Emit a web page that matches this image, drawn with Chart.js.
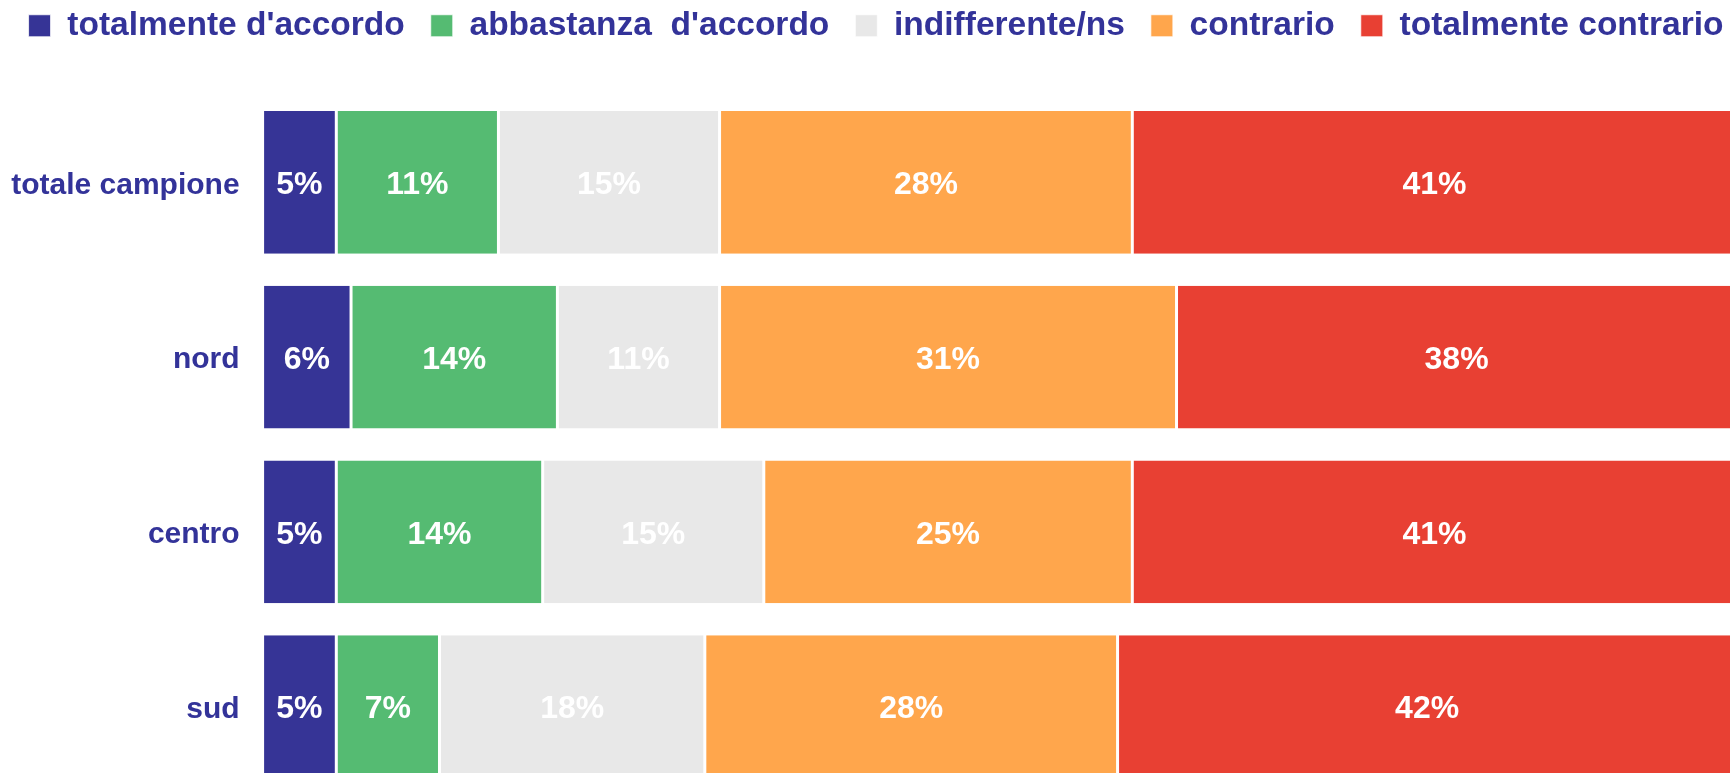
<!DOCTYPE html>
<html>
<head>
<meta charset="utf-8">
<script src="https://cdn.jsdelivr.net/npm/chart.js@4"></script>
<style>
  html, body { margin: 0; padding: 0; background: #fff; overflow: hidden; }
  #wrap { width: 1730px; height: 773px; overflow: hidden; position: relative; }
  #c { position: absolute; left: 0; top: 0; }
</style>
</head>
<body>
<div id="wrap"><canvas id="c" width="1752" height="835"></canvas></div>
<script>
// ---- data ----
var areas = ["totale campione", "nord", "centro", "sud"];
var seriesNames = ["totalmente d'accordo", "abbastanza  d'accordo", "indifferente/ns", "contrario", "totalmente contrario"];
var totAccordo = [5, 6, 5, 5];
var abbAccordo = [11, 14, 14, 7];
var indifferente = [15, 11, 15, 18];
var contrario = [28, 31, 25, 28];
var totContrario = [41, 38, 41, 42];
var seriesColors = ["#363496", "#55BB72", "#E8E8E8", "#FFA64C", "#E84033"];

var FONT = "Arial, 'Liberation Sans', sans-serif";
var NAVY = "#333399";

// labels centred in each segment
var segmentLabels = {
  id: 'segmentLabels',
  afterDatasetsDraw: function (chart) {
    var ctx = chart.ctx;
    ctx.save();
    ctx.font = "bold 32px " + FONT;
    ctx.fillStyle = "#ffffff";
    ctx.textAlign = "center";
    ctx.textBaseline = "middle";
    chart.data.datasets.forEach(function (ds, i) {
      chart.getDatasetMeta(i).data.forEach(function (bar, j) {
        var p = bar.getCenterPoint();
        ctx.fillText(ds.data[j] + "%", p.x, p.y + 3);
      });
    });
    ctx.restore();
  }
};

// extra room under the legend
var legendGap = {
  id: 'legendGap',
  beforeInit: function (chart) {
    var fit = chart.legend.fit;
    chart.legend.fit = function () {
      fit.call(this);
      this.height += 42.5;
    };
  }
};

var allData = [totAccordo, abbAccordo, indifferente, contrario, totContrario];
var datasets = seriesNames.map(function (name, i) {
  return {
    label: name,
    data: allData[i],
    backgroundColor: seriesColors[i],
    borderColor: "#ffffff",
    borderWidth: { left: 1.5, right: 1.5, top: 0, bottom: 0 },
    borderSkipped: false,
    barPercentage: 0.817,
    categoryPercentage: 1.0
  };
});

new Chart(document.getElementById("c"), {
  type: 'bar',
  data: { labels: areas, datasets: datasets },
  options: {
    indexAxis: 'y',
    responsive: false,
    animation: false,
    devicePixelRatio: 1,
    layout: { padding: { top: -17, left: 0, right: 0, bottom: 40 } },
    plugins: {
      legend: {
        position: 'top',
        labels: {
          color: NAVY,
          font: { family: FONT, size: 33.5, weight: 'bold' },
          boxWidth: 22,
          boxHeight: 22,
          padding: 26
        }
      },
      tooltip: { enabled: false }
    },
    scales: {
      x: {
        stacked: true,
        display: false,
        min: 0,
        max: 101.04
      },
      y: {
        stacked: true,
        grid: { display: false, drawTicks: false },
        border: { display: false },
        ticks: {
          color: NAVY,
          padding: 23,
          labelOffset: 3,
          font: { family: FONT, size: 30, weight: 'bold' }
        },
        afterFit: function (scale) { scale.width = 262.6; }
      }
    }
  },
  plugins: [segmentLabels, legendGap]
});
</script>
</body>
</html>
